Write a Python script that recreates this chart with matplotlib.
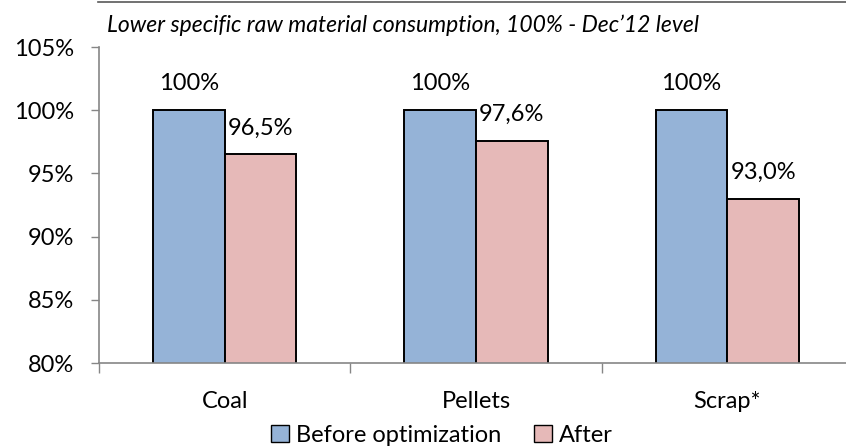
import numpy as np
import matplotlib.pyplot as plt
from matplotlib.lines import Line2D
from matplotlib.patches import Patch

# Consumo específico por material (nivel dic-12 = 100%)
categories = ["Coal", "Pellets", "Scrap*"]
before = [100.0, 100.0, 100.0]
after = [96.5, 97.6, 93.0]
before_labels = ["100%", "100%", "100%"]
after_labels = ["96,5%", "97,6%", "93,0%"]
series_names = ["Before optimization", "After"]
yticks = [80, 85, 90, 95, 100, 105]
title = "Lower specific raw material consumption, 100% - Dec\u201912 level"

blue = "#95B3D7"
pink = "#E6B9B8"
grey = "#868686"

plt.rcParams["font.family"] = ["Lato", "DejaVu Sans"]

W, H = 846, 446
fig = plt.figure(figsize=(W / 100, H / 100), dpi=100)
# ejes en píxeles: izquierda 99, abajo 363, arriba 47, derecha 853 (se sale de la figura)
ax = fig.add_axes([99 / W, 1 - 363 / H, (853 - 99) / W, (363 - 47) / H])

x = np.arange(len(categories))
w = 1 / 3.5
b1 = ax.bar(x - w / 2, before, w, color=blue, edgecolor="black", linewidth=1.4)
b2 = ax.bar(x + w / 2, after, w, color=pink, edgecolor="black", linewidth=1.4)

for bars, labels in ((b1, before_labels), (b2, after_labels)):
    for rect, lab in zip(bars, labels):
        ax.annotate(lab, (rect.get_x() + rect.get_width() / 2, rect.get_height()),
                    xytext=(0, 19), textcoords="offset points",
                    ha="center", va="center", fontsize=17)

ax.set_ylim(80, 105)
ax.set_xlim(-0.5, 2.5)
ax.set_yticks(yticks)
ax.set_yticklabels([f"{t}%" for t in yticks], fontsize=17)
ax.set_xticks(x)
ax.set_xticklabels(categories, fontsize=17)
ax.set_xticks([-0.5, 0.5, 1.5, 2.5], minor=True)
ax.tick_params(axis="x", which="major", length=0, pad=20)
ax.tick_params(axis="x", which="minor", length=7, color=grey, width=1)
ax.tick_params(axis="y", length=6, color=grey, width=1, pad=12)

for side in ("top", "right"):
    ax.spines[side].set_visible(False)
for side in ("left", "bottom"):
    ax.spines[side].set_color(grey)
    ax.spines[side].set_linewidth(1.2)

# línea superior y subtítulo
fig.add_artist(Line2D([98 / W, 1.0], [1 - 2 / H, 1 - 2 / H], color="#595959", lw=1.2))
fig.text(107 / W, 1 - 25 / H, title, fontsize=16.5, style="italic", va="center", ha="left")

handles = [Patch(facecolor=blue, edgecolor="black", linewidth=1),
           Patch(facecolor=pink, edgecolor="black", linewidth=1)]
fig.legend(handles, series_names, loc="center", bbox_to_anchor=(442 / W, 1 - 435 / H),
           ncol=2, frameon=False, fontsize=17, handlelength=0.75, handleheight=0.75,
           handletextpad=0.3, columnspacing=1.4, borderpad=0)

fig.savefig("out.png", dpi=100)
